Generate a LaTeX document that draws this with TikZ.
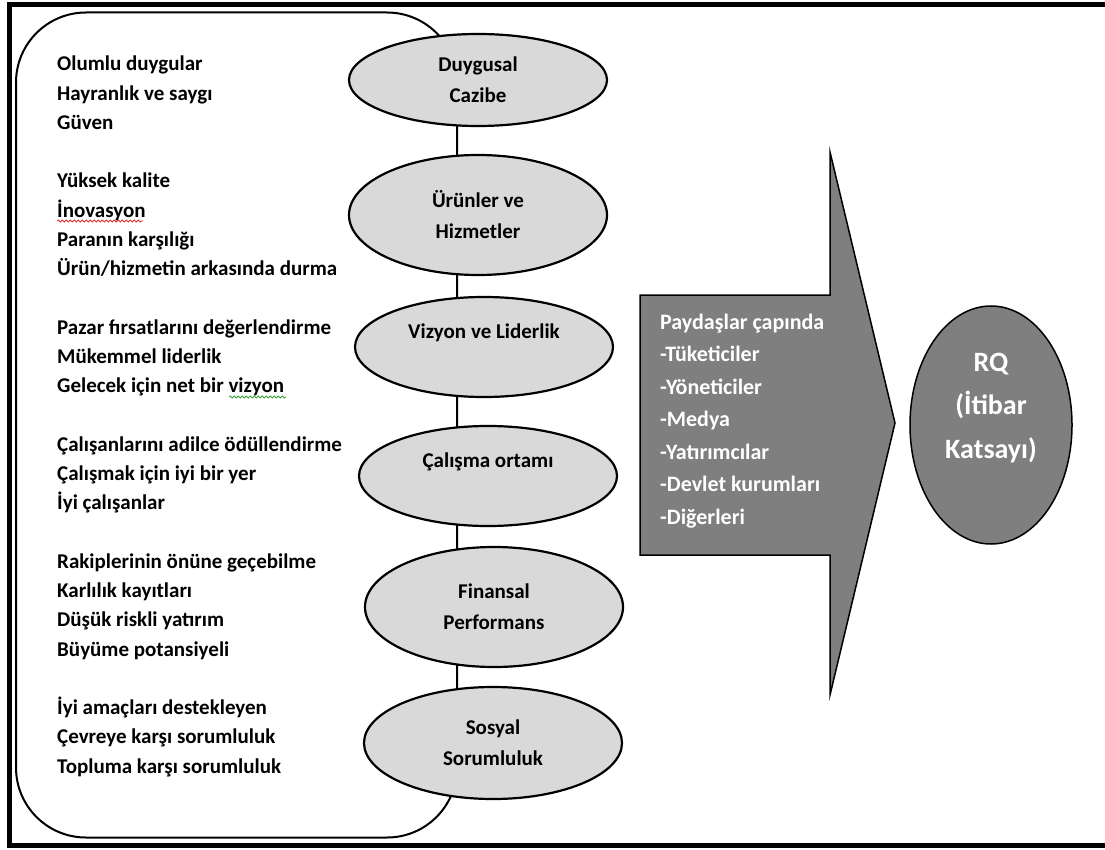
\documentclass[tikz,border=0pt]{standalone}
\usepackage{fontspec}
\setmainfont{Carlito}
\usetikzlibrary{shapes.geometric,decorations.pathmorphing}
\definecolor{ovalfill}{HTML}{D9D9D9}
\definecolor{arrowfill}{HTML}{7F7F7F}
\definecolor{spellred}{HTML}{E03030}
\definecolor{spellgreen}{HTML}{3CA03C}
\begin{document}
\begin{tikzpicture}[x=1pt,y=-1pt,
  oval/.style={ellipse, draw=black, line width=2.2pt, fill=ovalfill, inner sep=0pt,
    minimum width=258pt, align=center, font=\fontsize{21}{31}\selectfont\bfseries},
  % multi-line nodes: the base anchor sits on the last line
  itemlist/.style={anchor=base west, align=left, inner sep=0pt,
    font=\fontsize{21}{29.25}\selectfont\bfseries},
  whitelist/.style={anchor=base west, align=left, inner sep=0pt, text=white,
    font=\fontsize{22}{32.5}\selectfont\bfseries},
  squiggle/.style={decorate, decoration={snake, amplitude=1pt, segment length=4pt}, line width=0.8pt}
]
\useasboundingbox (0,0) rectangle (1105,850);

% outer frame, open on the right
\begin{scope}
  \clip (0,0) rectangle (1105,850);
  \draw[line width=5pt] (9.5,4.5) rectangle (1130,845.5);
\end{scope}

% rounded panel holding the attribute lists; its right edge links the ovals
\draw[line width=2pt, rounded corners=70pt] (16,12.5) rectangle (457,837.5);

% dimension ovals
\node[oval, minimum height=92pt]  (e1) at (478,80)  {Duygusal\\Cazibe};
\node[oval, minimum height=120pt] (e2) at (478,215) {Ürünler ve\\Hizmetler};
\node[oval, minimum height=100pt] (e3) at (484,347) {Vizyon ve Liderlik\\\mbox{}};
\node[oval, minimum height=100pt] (e4) at (488,476) {Çalışma ortamı\\\mbox{}};
\node[oval, minimum height=120pt] (e5) at (494,607) {Finansal\\Performans};
\node[oval, minimum height=112pt] (e6) at (493,743) {Sosyal\\Sorumluluk};

% attribute lists (positions are last-line baselines)
\node[itemlist] (g1) at (57,129.5) {Olumlu duygular\\Hayranlık ve saygı\\Güven};
\node[itemlist] (g2) at (57,275.75) {Yüksek kalite\\İnovasyon\\Paranın karşılığı\\Ürün/hizmetin arkasında durma};
\node[itemlist] (g3) at (57,392.75) {Pazar fırsatlarını değerlendirme\\Mükemmel liderlik\\Gelecek için net bir vizyon};
\node[itemlist] (g4) at (57,509.75) {Çalışanlarını adilce ödüllendirme\\Çalışmak için iyi bir yer\\İyi çalışanlar};
\node[itemlist] (g5) at (57,656) {Rakiplerinin önüne geçebilme\\Karlılık kayıtları\\Düşük riskli yatırım\\Büyüme potansiyeli};
\node[itemlist] (g6) at (57,773) {İyi amaçları destekleyen\\Çevreye karşı sorumluluk\\Topluma karşı sorumluluk};

% spelling marks
\draw[spellred, squiggle] (57,221) -- (143,221);
\draw[spellgreen, squiggle] (229,397) -- (286,397);

% block arrow with stakeholders
\draw[line width=1.5pt, fill=arrowfill, line join=miter]
  (640,295) -- (830,295) -- (830,152) -- (895,423) -- (830,695) -- (830,555) -- (640,555) -- cycle;
\node[whitelist] (stake) at (660,524)
  {Paydaşlar çapında\\-Tüketiciler\\-Yöneticiler\\-Medya\\-Yatırımcılar\\-Devlet kurumları\\-Diğerleri};

% result oval
\node[ellipse, draw=black, line width=1.5pt, fill=arrowfill, minimum width=162pt, minimum height=238pt] (rq) at (991,425) {};
\node[align=center, text=white, font=\fontsize{28}{43.5}\selectfont\bfseries] (rqtext) at ([yshift=17pt]rq.center)
  {RQ\\(İtibar\\Katsayı)};
\end{tikzpicture}
\end{document}
